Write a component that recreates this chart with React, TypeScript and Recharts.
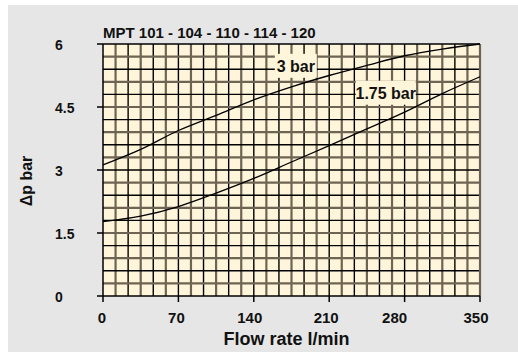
import React from 'react';
import { LineChart, Line, XAxis, YAxis, ReferenceLine, ReferenceDot, ReferenceArea } from 'recharts';

const flowRates = [0, 35, 70, 105, 140, 175, 210, 245, 280, 315, 350];
const curve3bar = [3.12, 3.49, 3.94, 4.3, 4.67, 4.98, 5.25, 5.49, 5.72, 5.88, 6.0];
const curve175bar = [1.77, 1.9, 2.13, 2.45, 2.8, 3.19, 3.58, 3.98, 4.38, 4.82, 5.22];
const xTicks = [0, 70, 140, 210, 280, 350];
const yTicks = [0, 1.5, 3, 4.5, 6];
const curveLabels = [
  { text: '3 bar', flow: 179, dp: 5.48 },
  { text: '1.75 bar', flow: 262.5, dp: 4.84 },
];
const titleText = 'MPT 101 - 104 - 110 - 114 - 120';
const xTitle = 'Flow rate l/min';
const yTitle = 'Δp bar';

const data = flowRates.map((f, i) => ({ flow: f, bar3: curve3bar[i], bar175: curve175bar[i] }));

const gridX: number[] = [];
for (let i = 1; i < 30; i++) gridX.push((350 * i) / 30);
const gridY: number[] = [];
for (let i = 1; i < 20; i++) gridY.push((6 * i) / 20);

const FONT = '"Liberation Sans Narrow", "Liberation Sans", Arial, sans-serif';
const CREAM = '#fff5da';
const GRAYLINE = '#6e6453';
const INK = '#000';

const XTick = (props: any) => {
  const { x, y, payload } = props;
  const shiftMap: Record<number, number> = { 0: -1, 70: -2, 140: -4, 210: -3, 280: -10, 350: -4 };
  const shift = shiftMap[payload.value] ?? -3;
  return (
    <text x={x + shift} y={y + 19} textAnchor="middle" fontFamily={FONT} fontWeight="bold" fontSize={15} fill="#111">
      {payload.value}
    </text>
  );
};

const YTick = (props: any) => {
  const { x, y, payload } = props;
  return (
    <text x={x - 40} y={y + 6} textAnchor="start" fontFamily={FONT} fontWeight="bold" fontSize={14} fill="#111">
      {payload.value}
    </text>
  );
};

const LabelBox = (text: string) => (props: any) => {
  const { cx, cy } = props;
  const w = text.length > 6 ? 60 : 42;
  return (
    <g>
      <rect x={cx - w / 2} y={cy - 12} width={w} height={24} fill={CREAM} />
      <text x={cx} y={cy + 6} textAnchor="middle" fontFamily={FONT} fontWeight="bold" fontSize={16} fill="#111">
        {text}
      </text>
    </g>
  );
};

export default function App() {
  return (
    <div style={{ position: 'absolute', left: 8, top: 5, width: 510, height: 347, background: '#e6e6e6' }}>
      <svg style={{ position: 'absolute', left: 0, top: 0 }} width={510} height={40}>
        <text x={95} y={32.5} fontFamily={FONT} fontWeight="bold" fontSize={15} fill="#111">
          {titleText}
        </text>
      </svg>
      <LineChart
        width={510}
        height={347}
        data={data}
        margin={{ top: 39, right: 38, left: 0, bottom: 0 }}
        style={{ position: 'absolute', left: 0, top: 0 }}
      >
        <XAxis
          dataKey="flow"
          type="number"
          domain={[0, 350]}
          ticks={xTicks}
          height={56}
          tickSize={6}
          axisLine={{ stroke: INK, strokeWidth: 1.5 }}
          tickLine={{ stroke: INK, strokeWidth: 1.5 }}
          tick={XTick}
          label={{
            content: (p: any) => {
              const vb = p.viewBox;
              return (
                <text x={vb.x + vb.width / 2 - 5} y={340} textAnchor="middle" fontFamily={FONT} fontWeight="bold" fontSize={18} fill="#111">
                  {xTitle}
                </text>
              );
            },
          }}
        />
        <YAxis
          type="number"
          domain={[0, 6]}
          ticks={yTicks}
          width={95}
          tickSize={6}
          axisLine={{ stroke: INK, strokeWidth: 1.5 }}
          tickLine={{ stroke: INK, strokeWidth: 1.5 }}
          tick={YTick}
          label={{
            content: (p: any) => {
              const vb = p.viewBox;
              const cy = vb.y + vb.height / 2 + 11;
              return (
                <text
                  x={24}
                  y={cy}
                  transform={`rotate(-90, 24, ${cy})`}
                  textAnchor="middle"
                  fontFamily={FONT}
                  fontWeight="bold"
                  fontSize={16}
                  fill="#111"
                >
                  {yTitle}
                </text>
              );
            },
          }}
        />
        <ReferenceArea x1={0} x2={350} y1={0} y2={6} fill={CREAM} fillOpacity={1} stroke="none" />
        {gridX.map((v, i) => (
          <ReferenceLine
            key={`vx${i}`}
            x={v}
            stroke={i % 2 === 0 ? GRAYLINE : INK}
            strokeWidth={i % 2 === 0 ? 2.2 : 1.4}
          />
        ))}
        {gridY.map((v, i) => (
          <ReferenceLine
            key={`hy${i}`}
            y={v}
            stroke={i % 2 === 0 ? GRAYLINE : INK}
            strokeWidth={i % 2 === 0 ? 2.2 : 1.4}
          />
        ))}
        <ReferenceLine y={6} stroke={INK} strokeWidth={1.6} />
        <ReferenceLine x={350} stroke={GRAYLINE} strokeWidth={2.2} />
        <Line dataKey="bar3" type="monotone" stroke="#000" strokeWidth={1.3} dot={false} isAnimationActive={false} />
        <Line dataKey="bar175" type="monotone" stroke="#000" strokeWidth={1.3} dot={false} isAnimationActive={false} />
        {curveLabels.map((l) => (
          <ReferenceDot key={l.text} x={l.flow} y={l.dp} r={0} shape={LabelBox(l.text)} ifOverflow="visible" />
        ))}
      </LineChart>
    </div>
  );
}
